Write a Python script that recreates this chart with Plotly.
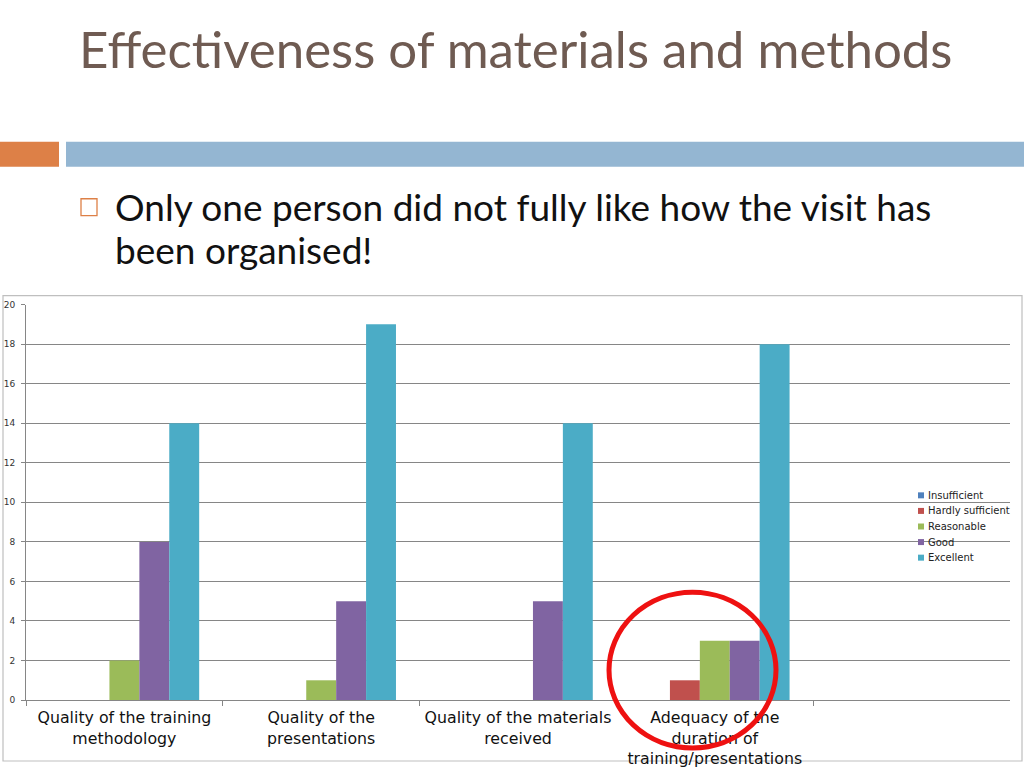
#!/usr/bin/env python3
"""Effectiveness of materials and methods - grouped bar chart slide"""

import plotly.graph_objects as go

# Data
categories = [
    'Quality of the training<br>methodology',
    'Quality of the<br>presentations',
    'Quality of the materials<br>received',
    'Adequacy of the<br>duration of<br>training/presentations',
]
series_names = ['Insufficient', 'Hardly sufficient', 'Reasonable', 'Good', 'Excellent']
insufficient = [0, 0, 0, 0]
hardly_sufficient = [0, 0, 0, 1]
reasonable = [2, 1, 0, 3]
good = [8, 5, 5, 3]
excellent = [14, 19, 14, 18]
y_ticks = list(range(0, 21, 2))

series_values = [insufficient, hardly_sufficient, reasonable, good, excellent]
colors = ['#4F81BD', '#C0504D', '#9BBB59', '#8064A2', '#4BACC6']

W, H = 1024, 768


def px_x(x):
    return x / W


def px_y(y):
    # the photographed page comes out slightly squashed and pushed down,
    # so undo that here (measured from earlier renders)
    yf = min((y - 6) / 0.9857, H)
    return 1 - yf / H


fig = go.Figure()

for name, vals, col in zip(series_names, series_values, colors):
    fig.add_trace(go.Bar(
        x=categories,
        y=vals,
        name=name,
        marker_color=col,
        marker_line_width=0,
        showlegend=False,
    ))

# Slide decorations
shapes = [
    # orange and blue header strips
    dict(type='rect', xref='paper', yref='paper', x0=px_x(0), x1=px_x(59),
         y0=px_y(168), y1=px_y(143), fillcolor='#DD8047', line_width=0, layer='below'),
    dict(type='rect', xref='paper', yref='paper', x0=px_x(66), x1=px_x(1024),
         y0=px_y(168), y1=px_y(143), fillcolor='#94B6D2', line_width=0, layer='below'),
    # bullet square
    dict(type='rect', xref='paper', yref='paper', x0=px_x(81), x1=px_x(97),
         y0=px_y(217), y1=px_y(200), fillcolor='rgba(0,0,0,0)',
         line=dict(color='#DD8047', width=1.3)),
    # chart frame
    dict(type='rect', xref='paper', yref='paper', x0=px_x(3), x1=px_x(1022),
         y0=px_y(766), y1=px_y(297), fillcolor='rgba(0,0,0,0)',
         line=dict(color='#BFBFBF', width=1.2), layer='below'),
    # red highlight circle
    dict(type='circle', xref='paper', yref='paper', x0=px_x(609), x1=px_x(776),
         y0=px_y(750), y1=px_y(594), fillcolor='rgba(0,0,0,0)',
         line=dict(color='#EE1111', width=5)),
]

title_font = dict(family='Lato', size=51, color='#6F5B52')
body_font = dict(family='Lato', size=37, color='#111111')

annotations = [
    dict(text='Effectiveness of materials and methods', xref='paper', yref='paper',
         x=px_x(77), y=px_y(50), xanchor='left', yanchor='middle', showarrow=False,
         font=title_font),
    dict(text='Only one person did not fully like how the visit has',
         xref='paper', yref='paper', x=px_x(113), y=px_y(208), xanchor='left',
         yanchor='middle', showarrow=False, font=body_font),
    dict(text='been organised!',
         xref='paper', yref='paper', x=px_x(113), y=px_y(251), xanchor='left',
         yanchor='middle', showarrow=False, font=body_font),
]

# Legend drawn by hand so the item spacing matches the original
for i, (name, col) in enumerate(zip(series_names, colors)):
    yc = 497 + i * 15.6
    shapes.append(dict(type='rect', xref='paper', yref='paper',
                       x0=px_x(918), x1=px_x(924), y0=px_y(yc + 3), y1=px_y(yc - 3),
                       fillcolor=col, line_width=0))
    annotations.append(dict(text=name, xref='paper', yref='paper', x=px_x(926), y=px_y(yc),
                            xanchor='left', yanchor='middle', showarrow=False,
                            font=dict(family='DejaVu Sans', size=10, color='#222222')))

fig.update_layout(
    width=W,
    height=H,
    margin=dict(l=0, r=0, t=0, b=0),
    paper_bgcolor='white',
    plot_bgcolor='white',
    barmode='group',
    bargap=0.24,
    bargroupgap=0,
    shapes=shapes,
    annotations=annotations,
    xaxis=dict(
        domain=[px_x(26), px_x(1010)],
        range=[-0.5, 4.5],
        tickson='boundaries',
        ticks='outside',
        ticklen=5,
        tickcolor='#868686',
        ticklabelstandoff=3,
        showline=True,
        linecolor='#868686',
        linewidth=1,
        showgrid=False,
        tickfont=dict(family='DejaVu Sans', size=15.8, color='#111111'),
        fixedrange=True,
    ),
    yaxis=dict(
        domain=[px_y(702), px_y(306)],
        range=[0, 20],
        tickvals=y_ticks,
        ticks='outside',
        ticklen=4,
        tickcolor='#868686',
        ticklabelstandoff=4,
        showline=True,
        linecolor='#868686',
        showgrid=True,
        gridcolor='#868686',
        gridwidth=1,
        zeroline=False,
        tickfont=dict(family='DejaVu Sans', size=9, color='#333333'),
        fixedrange=True,
    ),
)

page_fix = "document.body.style.margin='0';"
fig.write_html('out.html', config={'displayModeBar': False}, post_script=page_fix)
